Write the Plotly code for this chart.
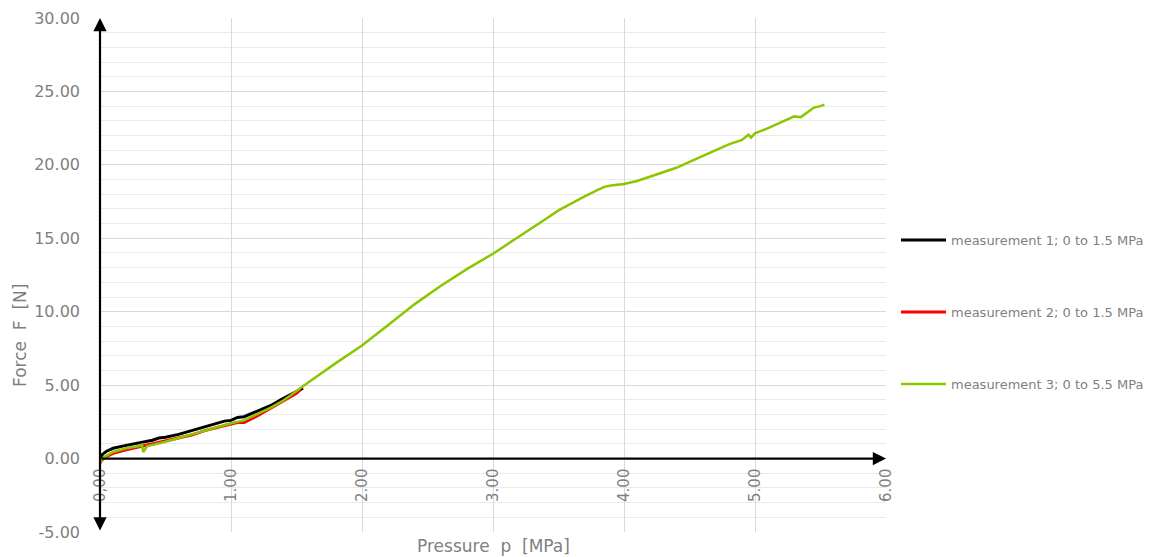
import plotly.graph_objects as go

# ---- data ----
m1_p = [0.00, 0.02, 0.05, 0.10, 0.20, 0.30, 0.40, 0.45, 0.50, 0.60, 0.70, 0.80, 0.90, 0.95, 1.00, 1.05, 1.10, 1.20, 1.30, 1.40, 1.50, 1.55]
m1_f = [0.00, 0.30, 0.50, 0.70, 0.90, 1.05, 1.25, 1.40, 1.45, 1.65, 1.90, 2.15, 2.40, 2.55, 2.60, 2.80, 2.85, 3.20, 3.60, 4.10, 4.60, 4.80]

m2_p = [0.00, 0.02, 0.05, 0.10, 0.20, 0.30, 0.40, 0.50, 0.60, 0.70, 0.80, 0.90, 1.00, 1.05, 1.10, 1.20, 1.30, 1.40, 1.50, 1.53]
m2_f = [-0.30, -0.05, 0.15, 0.35, 0.60, 0.80, 0.95, 1.15, 1.40, 1.60, 1.90, 2.15, 2.35, 2.45, 2.45, 2.90, 3.40, 3.90, 4.45, 4.70]

m3_p = [0.00, 0.03, 0.10, 0.20, 0.30, 0.32, 0.33, 0.36, 0.50, 0.60, 0.70, 0.80, 0.90, 1.00, 1.10,
        1.20, 1.30, 1.40, 1.50, 1.54, 1.60, 1.80, 2.00, 2.20, 2.40, 2.60, 2.80, 3.00, 3.20, 3.40,
        3.50, 3.60, 3.70, 3.80, 3.85, 3.90, 4.00, 4.10, 4.20, 4.30, 4.40, 4.50, 4.60, 4.70, 4.80,
        4.90, 4.95, 4.97, 5.00, 5.10, 5.20, 5.30, 5.35, 5.40, 5.45, 5.50, 5.53]
m3_f = [-0.30, 0.10, 0.45, 0.70, 0.85, 0.95, 0.45, 0.85, 1.15, 1.40, 1.65, 1.95, 2.20, 2.40, 2.60,
        3.00, 3.45, 3.95, 4.60, 4.92, 5.25, 6.50, 7.70, 9.10, 10.50, 11.75, 12.90, 13.95, 15.10, 16.30,
        16.90, 17.40, 17.85, 18.30, 18.50, 18.60, 18.70, 18.90, 19.20, 19.45, 19.80, 20.20, 20.60, 21.00, 21.40,
        21.70, 22.05, 21.85, 22.15, 22.50, 22.90, 23.30, 23.25, 23.60, 23.90, 24.00, 24.10]

series_names = ["measurement 1; 0 to 1.5 MPa",
                "measurement 2; 0 to 1.5 MPa",
                "measurement 3; 0 to 5.5 MPa"]

x_tickvals = [0, 1, 2, 3, 4, 5, 6]
x_ticktext = ["0,00", "1.00", "2.00", "3.00", "4.00", "5.00", "6.00"]
y_tickvals = [-5, 0, 5, 10, 15, 20, 25, 30]
y_ticktext = ["-5.00", "0.00", "5.00", "10.00", "15.00", "20.00", "25.00", "30.00"]

x_title = "Pressure  p  [MPa]"
y_title = "Force  F  [N]"

# ---- figure ----
FONT = "DejaVu Sans"
GRAY = "#7f7f7f"

fig = go.Figure()
fig.add_trace(go.Scatter(x=m1_p, y=m1_f, mode="lines", name=series_names[0],
                         line=dict(color="#000000", width=3), legendgroup="a"))
fig.add_trace(go.Scatter(x=m2_p, y=m2_f, mode="lines", name=series_names[1],
                         line=dict(color="#ff0000", width=3), legendgroup="b"))
fig.add_trace(go.Scatter(x=m3_p, y=m3_f, mode="lines", name=series_names[2],
                         line=dict(color="#8cc600", width=2.5), legendgroup="c"))

y_min, y_max = -5, 30
fig.update_layout(
    width=1150, height=557,
    margin=dict(l=100, r=264, t=18, b=25, autoexpand=False),
    paper_bgcolor="white", plot_bgcolor="white",
    font=dict(family=FONT, color=GRAY),
    xaxis=dict(range=[0, 6], tickvals=x_tickvals, ticktext=x_ticktext,
               tickangle=-90, tickfont=dict(size=15, color=GRAY),
               showgrid=True, gridcolor="#d9d9d9", gridwidth=1,
               zeroline=False, showline=False, ticks="",
               anchor="free", position=(0 - y_min) / (y_max - y_min),
               ticklabelstandoff=6),
    yaxis=dict(range=[y_min, y_max], tickvals=y_tickvals, ticktext=y_ticktext,
               tickfont=dict(size=16, color=GRAY),
               showgrid=True, gridcolor="#d9d9d9", gridwidth=1,
               minor=dict(dtick=1, showgrid=True, gridcolor="#eaeaea", gridwidth=1),
               zeroline=False, showline=False, ticks="",
               ticklabelstandoff=19),
    legend=dict(x=1.0127, y=0.597, xanchor="left", yanchor="top",
                font=dict(size=13, color=GRAY, family=FONT),
                itemwidth=45,
                tracegroupgap=52, bgcolor="rgba(0,0,0,0)"),
    showlegend=True,
)

# axis arrows
fig.add_annotation(x=0, y=y_max, ax=0, ay=y_min, xref="x", yref="y", axref="x", ayref="y",
                   showarrow=True, arrowside="end+start", arrowhead=2, arrowsize=1.2,
                   arrowwidth=2.2, arrowcolor="#000000", text="", standoff=0, startstandoff=0)
fig.add_annotation(x=6, y=0, ax=0, ay=0, xref="x", yref="y", axref="x", ayref="y",
                   showarrow=True, arrowhead=2, arrowsize=1.2,
                   arrowwidth=2.2, arrowcolor="#000000", text="", standoff=0)

# axis titles
fig.add_annotation(x=0.5, y=-0.027, xref="paper", yref="paper", text=x_title, showarrow=False,
                   xanchor="center", yanchor="middle", font=dict(size=17, color=GRAY, family=FONT))
fig.add_annotation(x=-0.102, y=0.383, xref="paper", yref="paper", text=y_title, showarrow=False,
                   textangle=-90, xanchor="center", yanchor="middle",
                   font=dict(size=17, color=GRAY, family=FONT))

fig.write_html("out.html")
